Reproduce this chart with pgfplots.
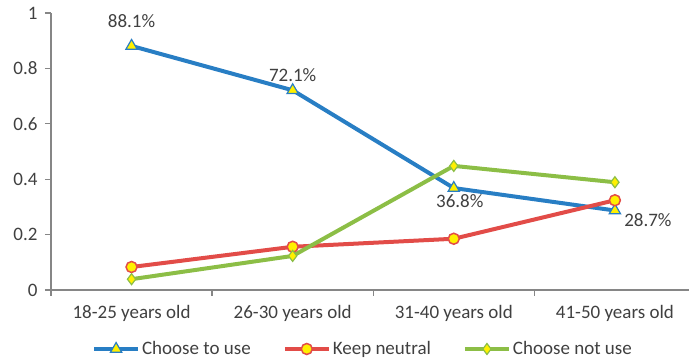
\documentclass[border=0pt]{standalone}
\usepackage{fontspec}
\setmainfont{Carlito}
\usepackage{pgfplots}
\pgfplotsset{compat=1.18}
\definecolor{cblue}{RGB}{40,126,196}
\definecolor{cred}{RGB}{226,76,72}
\definecolor{cgreen}{RGB}{140,190,70}
\definecolor{cyel}{RGB}{255,240,0}
\definecolor{ctext}{RGB}{64,64,64}
\definecolor{caxis}{RGB}{134,134,134}
\begin{document}
\begin{tikzpicture}
\begin{axis}[
  name=ax,
  scale only axis,
  width=638pt, height=277pt,
  xmin=-0.5, xmax=3.46,
  ymin=0, ymax=1,
  axis x line*=bottom, axis y line*=left,
  axis line style={caxis, line width=1.3pt, -},
  xtick={0,1,2,3},
  xticklabels={18-25 years old,26-30 years old,31-40 years old,41-50 years old},
  major x tick style={draw=none},
  minor xtick={-0.5,0.5,1.5,2.5},
  minor x tick style={caxis, line width=1.3pt},
  minor tick length=6pt,
  ytick={0,0.2,0.4,0.6,0.8,1},
  yticklabels={0,0.2,0.4,0.6,0.8,1},
  ytick style={caxis, line width=1.3pt},
  major tick length=6pt,
  tick align=outside,
  /pgf/number format/assume math mode=true,
  tick label style={font=\fontsize{19}{23}\selectfont, text=ctext},
  xticklabel style={yshift=-6pt},
  yticklabel style={xshift=-4pt},
  clip=false,
  legend columns=3,
  legend style={at={(axis description cs:0.489,-0.213)}, anchor=center, draw=none, fill=none,
    font=\fontsize{19}{23}\selectfont, text=ctext,
    /tikz/every even column/.append style={column sep=30pt}},
  legend cell align=left,
  legend image code/.code={\draw[#1,mark repeat=2,mark phase=2] plot coordinates {(0pt,0pt)(22pt,0pt)(44pt,0pt)};},
  every axis plot/.append style={line width=4pt},
]
\addplot[cblue, mark=triangle*, mark size=6.5pt, mark options={fill=cyel, draw=cblue, line width=1.2pt}]
  coordinates {(0,0.881) (1,0.721) (2,0.368) (3,0.287)};
\addlegendentry{Choose to use}
\addplot[cred, mark=*, mark size=5.5pt, mark options={fill=cyel, draw=cred, line width=1.5pt}]
  coordinates {(0,0.083) (1,0.156) (2,0.185) (3,0.324)};
\addlegendentry{Keep neutral}
\addplot[cgreen, mark=diamond*, mark size=5.5pt, mark options={fill=cyel, draw=cgreen, line width=1.2pt}]
  coordinates {(0,0.039) (1,0.123) (2,0.448) (3,0.389)};
\addlegendentry{Choose not use}
\node[font=\fontsize{19}{23}\selectfont, text=ctext, shift={(0pt,25pt)}] at (axis cs:0,0.881) {88.1\%};
\node[font=\fontsize{19}{23}\selectfont, text=ctext, shift={(0pt,15pt)}] at (axis cs:1,0.721) {72.1\%};
\node[font=\fontsize{19}{23}\selectfont, text=ctext, shift={(6pt,-13.5pt)}] at (axis cs:2,0.368) {36.8\%};
\node[font=\fontsize{19}{23}\selectfont, text=ctext, shift={(33pt,-10pt)}] at (axis cs:3,0.287) {28.7\%};
\end{axis}
\pgfresetboundingbox
\path[use as bounding box] ([shift={(-51pt,-73pt)}]ax.south west) rectangle ([shift={(0pt,13pt)}]ax.north east);
\end{tikzpicture}
\end{document}
